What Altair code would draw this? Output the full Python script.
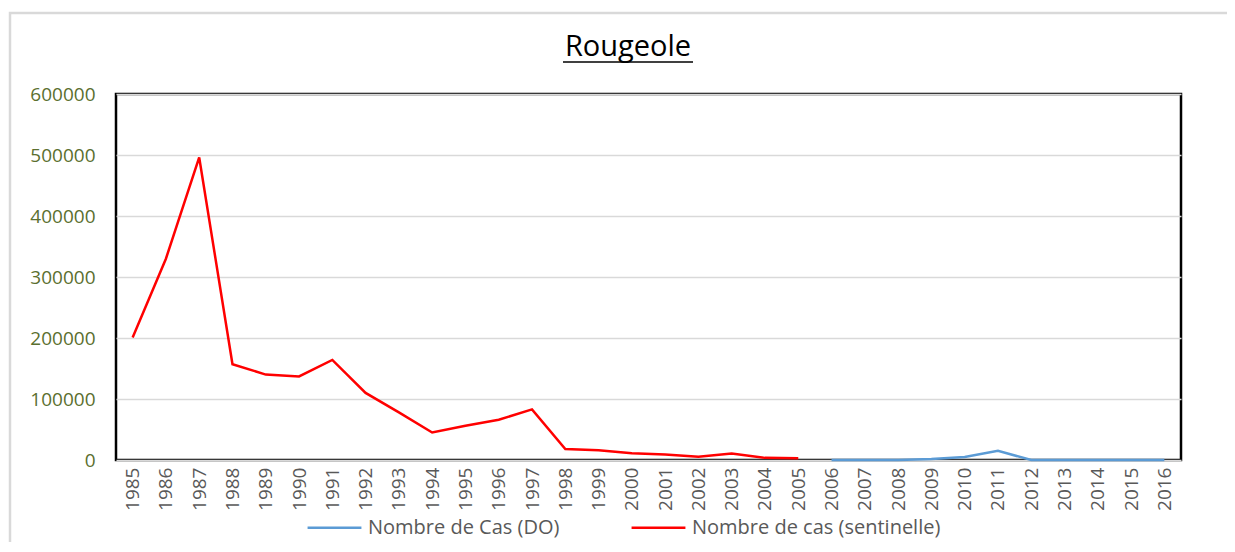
import altair as alt
import pandas as pd

# ---- data ----
chart_title = "Rougeole"
years = [str(y) for y in range(1985, 2017)]
years_sentinelle = [str(y) for y in range(1985, 2006)]
cas_sentinelle = [201000, 330000, 496000, 157000, 140000, 137000, 164000, 110000,
                  78000, 45000, 56000, 66000, 83000, 18000, 16000, 11000, 9000,
                  5500, 10500, 3500, 3000]
years_do = [str(y) for y in range(2006, 2017)]
cas_do = [0, 0, 0, 1500, 5000, 15000, 0, 0, 0, 0, 0]
series = ["Nombre de Cas (DO)", "Nombre de cas (sentinelle)"]
colors = ["#5b9bd5", "#ff0000"]
y_ticks = [0, 100000, 200000, 300000, 400000, 500000, 600000]

df = pd.concat([
    pd.DataFrame({"annee": years_do, "cas": cas_do, "serie": series[0]}),
    pd.DataFrame({"annee": years_sentinelle, "cas": cas_sentinelle, "serie": series[1]}),
], ignore_index=True)

FONT = "Open Sans"
W, H = 1065, 366

lines = alt.Chart(df).mark_line(strokeWidth=2.5).encode(
    x=alt.X("annee:O", title=None,
            scale=alt.Scale(type="point", domain=years, padding=0.5),
            axis=alt.Axis(labelAngle=270, labelAlign="right", labelBaseline="middle",
                          labelFontSize=19, labelColor="#595959", labelFont=FONT,
                          labelPadding=7, ticks=False, domain=False, grid=False)),
    y=alt.Y("cas:Q", title=None,
            scale=alt.Scale(domain=[0, 600000], nice=False, zero=True),
            axis=alt.Axis(values=y_ticks, format="d", labelFontSize=19,
                          labelColor="#5b6f2f", labelFont=FONT, labelPadding=21,
                          ticks=False, domain=False, grid=True,
                          gridColor="#d9d9d9", gridWidth=1.5)),
    color=alt.Color("serie:N", scale=alt.Scale(domain=series, range=colors),
                    legend=alt.Legend(orient="none", legendX=190, legendY=405,
                                      direction="horizontal", title=None,
                                      symbolType="stroke", symbolSize=2900,
                                      symbolStrokeWidth=2.5, labelFontSize=20,
                                      labelColor="#595959", labelFont=FONT,
                                      labelLimit=500, labelOffset=5,
                                      columnPadding=66)),
    detail="serie:N",
)

one = alt.Data(values=[{"t": chart_title}])

title_mark = alt.Chart(one).mark_text(font=FONT, fontSize=29, color="#000000",
                                      align="center", baseline="alphabetic").encode(
    x=alt.value(512), y=alt.value(-38), text="t:N"
)

underline = alt.Chart(one).mark_rule(color="black", strokeWidth=1.5).encode(
    x=alt.value(447), x2=alt.value(577), y=alt.value(-32)
)

outer_frame = alt.Chart(one).mark_rect(fill=None, fillOpacity=0, stroke="#d9d9d9",
                                       strokeWidth=2.5).encode(
    x=alt.value(-106), x2=alt.value(1200), y=alt.value(-81), y2=alt.value(600)
)

chart = alt.layer(outer_frame, lines, title_mark, underline).properties(
    width=W, height=H,
    autosize=alt.AutoSizeParams(type="none"),
    padding={"left": 108, "top": 86, "right": 46, "bottom": 82},
    background="white",
).configure_view(stroke="black", strokeWidth=2.5)

chart.save("out.html", embed_options={"renderer": "svg", "actions": False})
